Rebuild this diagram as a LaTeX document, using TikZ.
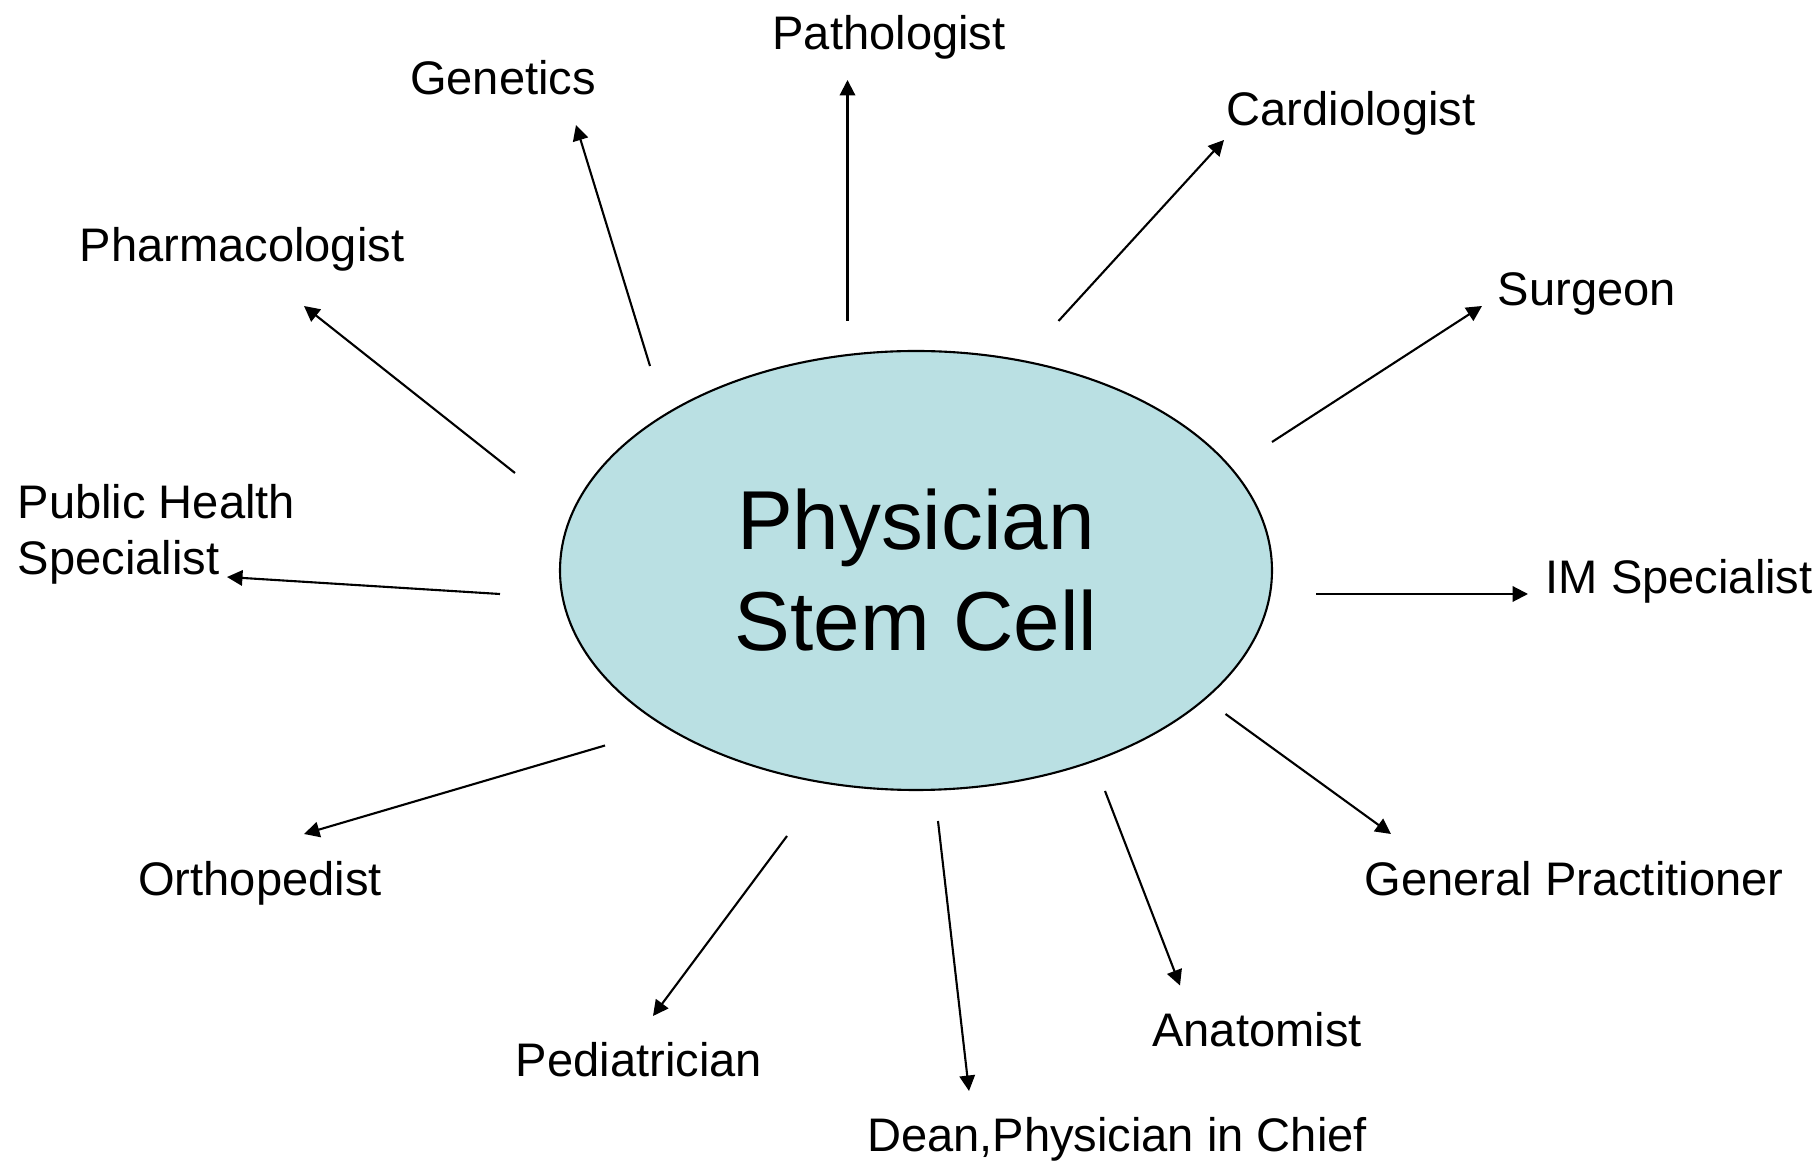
\documentclass[tikz,border=0pt]{standalone}
\usepackage{fontspec}
\setmainfont{Liberation Sans}
\usepackage{tikz}
\usetikzlibrary{arrows.meta,shapes.geometric}
\definecolor{cellblue}{RGB}{186,224,227}

\begin{document}
\begin{tikzpicture}[>={Triangle[length=4.4pt,width=4.4pt]},every node/.style={font=\fontsize{13.4}{16.1}\selectfont,inner sep=0pt}]
\tikzstyle{cell}=[ellipse,draw,line width=0.6pt,fill=cellblue,minimum width=7.12cm,minimum height=4.39cm,align=center,font=\fontsize{23.8}{28.7}\selectfont]
\tikzstyle{spoke}=[->,line width=0.6pt]
\useasboundingbox (0,0) rectangle (18.18,11.63);
\node[cell] (stem) at (9.16,5.925) {Physician\\Stem Cell};
% specialties
\node[anchor=base] (path) at (8.89,11.13) {Pathologist};
\node[anchor=base] (gen) at (5.03,10.68) {Genetics};
\node[anchor=base] (card) at (13.51,10.37) {Cardiologist};
\node[anchor=base] (pharm) at (2.42,9.01) {Pharmacologist};
\node[anchor=base] (surg) at (15.87,8.57) {Surgeon};
\node[anchor=base west,align=left] (pub) at (0.17,5.88) {Public Health\\Specialist};
\node[anchor=base west] (im) at (15.45,5.69) {IM Specialist};
\node[anchor=base] (gp) at (15.74,2.67) {General Practitioner};
\node[anchor=base] (ortho) at (2.60,2.67) {Orthopedist};
\node[anchor=base] (anat) at (12.57,1.16) {Anatomist};
\node[anchor=base] (ped) at (6.39,0.86) {Pediatrician};
\node[anchor=base] (dean) at (11.17,0.11) {Dean,Physician in Chief};
% spokes
\foreach \n/\sx/\sy/\ex/\ey in {path/8.475/8.42/8.475/10.83,gen/6.50/7.97/5.76/10.38,card/10.585/8.42/12.24/10.23,surg/12.72/7.21/14.82/8.57,pharm/5.15/6.90/3.04/8.57,pub/5.00/5.69/2.27/5.86,im/13.16/5.69/15.28/5.69,ortho/6.05/4.175/3.04/3.29,ped/7.87/3.27/6.53/1.47,dean/9.38/3.42/9.69/0.72,anat/11.05/3.72/11.80/1.775,gp/12.255/4.49/13.91/3.29}{
\coordinate (\n-from) at (\sx,\sy);
\coordinate (\n-to) at (\ex,\ey);
\draw[spoke] (\n-from)--(\n-to);}
\end{tikzpicture}
\end{document}
